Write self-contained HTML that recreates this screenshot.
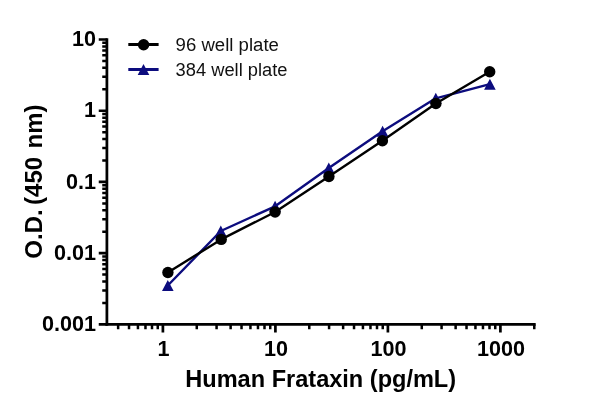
<!DOCTYPE html>
<html><head><meta charset="utf-8"><title>Human Frataxin ELISA</title>
<style>html,body{margin:0;padding:0;background:#fff}body{width:600px;height:413px;overflow:hidden}</style></head>
<body>
<svg width="600" height="413" viewBox="0 0 600 413" style="display:block">
<rect width="600" height="413" fill="#fff"/>
<g stroke="#000" fill="none" stroke-linecap="butt">
<path d="M106.9 38.17V325.775" stroke-width="2.75"/>
<path d="M105.525 324.4H535.7" stroke-width="2.75"/>
<path d="M106.9 324.40H98.75M106.9 253.18H98.75M106.9 181.96H98.75M106.9 110.74H98.75M106.9 39.52H98.75" stroke-width="2.7"/>
<path d="M106.9 302.96H102.25M106.9 290.42H102.25M106.9 281.52H102.25M106.9 274.62H102.25M106.9 268.98H102.25M106.9 264.21H102.25M106.9 260.08H102.25M106.9 256.44H102.25M106.9 231.74H102.25M106.9 219.20H102.25M106.9 210.30H102.25M106.9 203.40H102.25M106.9 197.76H102.25M106.9 192.99H102.25M106.9 188.86H102.25M106.9 185.22H102.25M106.9 160.52H102.25M106.9 147.98H102.25M106.9 139.08H102.25M106.9 132.18H102.25M106.9 126.54H102.25M106.9 121.77H102.25M106.9 117.64H102.25M106.9 114.00H102.25M106.9 89.30H102.25M106.9 76.76H102.25M106.9 67.86H102.25M106.9 60.96H102.25M106.9 55.32H102.25M106.9 50.55H102.25M106.9 46.42H102.25M106.9 42.78H102.25" stroke-width="2.5"/>
<path d="M162.90 324.4V332.5M275.40 324.4V332.5M387.90 324.4V332.5M500.40 324.4V332.5" stroke-width="2.7"/>
<path d="M118.13 324.4V329.25M129.03 324.4V329.25M137.94 324.4V329.25M145.47 324.4V329.25M152.00 324.4V329.25M157.75 324.4V329.25M196.77 324.4V329.25M216.58 324.4V329.25M230.63 324.4V329.25M241.53 324.4V329.25M250.44 324.4V329.25M257.97 324.4V329.25M264.50 324.4V329.25M270.25 324.4V329.25M309.27 324.4V329.25M329.08 324.4V329.25M343.13 324.4V329.25M354.03 324.4V329.25M362.94 324.4V329.25M370.47 324.4V329.25M377.00 324.4V329.25M382.75 324.4V329.25M421.77 324.4V329.25M441.58 324.4V329.25M455.63 324.4V329.25M466.53 324.4V329.25M475.44 324.4V329.25M482.97 324.4V329.25M489.50 324.4V329.25M495.25 324.4V329.25M534.27 324.4V329.25" stroke-width="2.5"/>
</g>
<polyline points="167.8,285.5 220.8,231 275.1,206.3 328.8,168 382.6,131.2 435.8,98.3 489.9,84.2" fill="none" stroke="#0c0c7e" stroke-width="2.4" stroke-linejoin="round"/>
<path d="M167.80 280.00L173.60 291.00H162.00ZM220.80 225.50L226.60 236.50H215.00ZM275.10 200.80L280.90 211.80H269.30ZM328.80 162.50L334.60 173.50H323.00ZM382.60 125.70L388.40 136.70H376.80ZM435.80 92.80L441.60 103.80H430.00ZM489.90 78.70L495.70 89.70H484.10Z" fill="#0c0c7e"/>
<polyline points="167.9,272.5 221.2,239.4 275.1,212 328.9,176.5 382.4,140.8 435.9,103.5 489.7,71.7" fill="none" stroke="#000" stroke-width="2.4" stroke-linejoin="round"/>
<circle cx="167.9" cy="272.5" r="5.7" fill="#000"/>
<circle cx="221.2" cy="239.4" r="5.7" fill="#000"/>
<circle cx="275.1" cy="212" r="5.7" fill="#000"/>
<circle cx="328.9" cy="176.5" r="5.7" fill="#000"/>
<circle cx="382.4" cy="140.8" r="5.7" fill="#000"/>
<circle cx="435.9" cy="103.5" r="5.7" fill="#000"/>
<circle cx="489.7" cy="71.7" r="5.7" fill="#000"/>
<path d="M128.3 44.5H158.6" stroke="#000" stroke-width="3"/><circle cx="143.6" cy="44.7" r="5.7" fill="#000"/>
<path d="M128.3 69.5H158.6" stroke="#0c0c7e" stroke-width="3"/><path d="M143.50 63.90L149.30 74.90H137.70Z" fill="#0c0c7e"/>
<g font-family="Liberation Sans, Arial, sans-serif" font-size="17.6" fill="#111"><text x="175.6" y="51.4" textLength="103.3" lengthAdjust="spacingAndGlyphs">96 well plate</text><text x="175.6" y="76" textLength="111.9" lengthAdjust="spacingAndGlyphs">384 well plate</text></g>
<g font-family="Liberation Sans, Arial, sans-serif" font-size="21.6" font-weight="bold" fill="#000" text-anchor="end">
<text x="96" y="46.12">10</text>
<text x="96" y="117.34">1</text>
<text x="96" y="188.56">0.1</text>
<text x="96" y="259.78">0.01</text>
<text x="96" y="331.00">0.001</text>
</g>
<g font-family="Liberation Sans, Arial, sans-serif" font-size="21.6" font-weight="bold" fill="#000" text-anchor="middle">
<text x="163.40" y="355.8">1</text>
<text x="275.90" y="355.8">10</text>
<text x="388.40" y="355.8">100</text>
<text x="500.90" y="355.8">1000</text>
</g>
<text font-family="Liberation Sans, Arial, sans-serif" font-size="23.55" font-weight="bold" x="185.3" y="386.7">Human Frataxin (pg/mL)</text>
<text font-family="Liberation Sans, Arial, sans-serif" font-size="24" font-weight="bold" transform="translate(41.7 258.7) rotate(-90)"><tspan x="0">O.D. </tspan><tspan x="53.8">(450 </tspan><tspan x="110.3">nm)</tspan></text>
</svg>
</body></html>
